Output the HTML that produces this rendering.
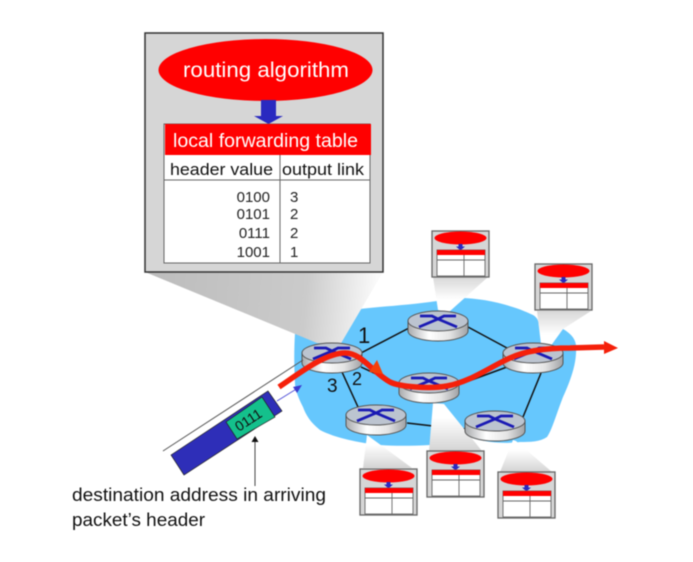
<!DOCTYPE html>
<html>
<head>
<meta charset="utf-8">
<style>
html,body{margin:0;padding:0;background:#fff;width:693px;height:562px;overflow:hidden}
svg{display:block;filter:blur(0.45px)}
text{font-family:"Liberation Sans",sans-serif}
</style>
</head>
<body>
<svg width="693" height="562" viewBox="0 0 693 562" xmlns="http://www.w3.org/2000/svg">
<defs>
<linearGradient id="cone" x1="0" y1="0" x2="0" y2="1"><stop offset="0" stop-color="#d8d8d8"/><stop offset="0.65" stop-color="#fff"/></linearGradient>
<linearGradient id="coneb" x1="0" y1="0" x2="0" y2="1"><stop offset="0.3" stop-color="#fff"/><stop offset="1" stop-color="#d4d4d4"/></linearGradient>
<linearGradient id="main" gradientUnits="userSpaceOnUse" x1="145" y1="280" x2="375" y2="300"><stop offset="0" stop-color="#bcbcbc"/><stop offset="0.7" stop-color="#cbcbcb"/><stop offset="1" stop-color="#fafafa"/></linearGradient>
<linearGradient id="side" x1="0" y1="0" x2="1" y2="0"><stop offset="0" stop-color="#a8aaad"/><stop offset="0.35" stop-color="#fff"/><stop offset="0.7" stop-color="#e4e4e4"/><stop offset="1" stop-color="#a0a2a5"/></linearGradient>
<g id="router">
<path d="M-30 0V10A30 10 0 0 0 30 10V0Z" fill="url(#side)" stroke="#555" stroke-width="1"/>
<ellipse cx="0" cy="0" rx="30" ry="10" fill="#bcc4d0" stroke="#555" stroke-width="1"/>
<path d="M-19 6L0 -2L19 6M-18 -5H-6L0 -2L6 -5H18" fill="none" stroke="#1a1ab4" stroke-width="2.8"/>
</g>
<g id="mini">
<rect x="0" y="0" width="57" height="46" fill="#d6d6d6" stroke="#666" stroke-width="1.3"/>
<ellipse cx="28.5" cy="7" rx="26" ry="6.5" fill="#f00"/>
<rect x="26.5" y="13" width="4" height="3" fill="#2a2ac0"/>
<path d="M24 15.5H33L28.5 19.500Z" fill="#2a2ac0"/>
<rect x="5" y="19" width="48" height="26" fill="#fff" stroke="#666" stroke-width="0.9"/>
<rect x="5" y="19" width="48" height="5" fill="#f00"/>
<path d="M5 29H53M32 24V45" stroke="#666" stroke-width="0.9" fill="none"/>
</g>
</defs>
<rect width="693" height="562" fill="#fff"/>

<!-- network cloud -->
<path d="M348 311C365 307 405 306 437 301C446 302 450 302 460 298C485 298 515 306 533 315C538 318 539 322 539 327C545 340 555 335 563 329C570 333 575 338 576 345C577 360 573 375 563 397C556 415 552 430 547 437C540 442 530 442 520 442C495 445 470 440 457 430L445 420L430 445C410 446 395 446 380 445C360 443 335 438 320 430C310 422 306 415 303 407C297 395 295 388 295 383C294 365 294 350 295 333Z" fill="#66c7fd"/>

<!-- links -->
<path d="M361 353L409 328M468 327L507 348M361 367L400 385M458 385L507 367M342 372L358 407M407 423L433 426M458 428L465 429M541 373L523 417" stroke="#111" stroke-width="1.5" fill="none"/>

<!-- cones -->
<polygon points="145,272 383,272 340,345 317,343" fill="url(#main)"/>
<polygon points="433,277 488,277 449,312 438,310" fill="url(#cone)"/>
<polygon points="537,311 591,311 563,329 550,347 541,344" fill="url(#cone)"/>
<polygon points="363,468 412,468 378,443 367,435" fill="url(#coneb)"/>
<polygon points="429,451 482,451 444,404 433,403" fill="url(#coneb)"/>
<polygon points="500,472 552,472 516,441 513,440" fill="url(#coneb)"/>

<!-- routers -->
<use href="#router" x="332" y="353"/>
<use href="#router" x="438" y="321"/>
<use href="#router" x="533" y="353"/>
<use href="#router" x="429" y="383"/>
<use href="#router" x="376" y="415"/>
<use href="#router" x="495" y="421"/>

<!-- main box -->
<rect x="145" y="33" width="238" height="239" fill="#d6d6d6" stroke="#333" stroke-width="1.5"/>
<ellipse cx="265.5" cy="70" rx="107" ry="31" fill="#f00"/>
<text x="266" y="77" font-size="21" fill="#fff" text-anchor="middle" textLength="166" lengthAdjust="spacingAndGlyphs">routing algorithm</text>
<path d="M261 100H276V116H283L268.500 124L254 116H261Z" fill="#2a2ac0"/>
<rect x="164" y="124" width="206" height="139" fill="#fff" stroke="#666" stroke-width="1"/>
<rect x="165" y="124" width="206" height="31" fill="#f00"/>
<text x="173" y="147" font-size="19" fill="#fff" textLength="185" lengthAdjust="spacingAndGlyphs">local forwarding table</text>
<path d="M164 180H370M280 155V263" stroke="#666" stroke-width="1" fill="none"/>
<text x="170" y="175" font-size="17" fill="#111" textLength="103" lengthAdjust="spacingAndGlyphs">header value</text>
<text x="282" y="175" font-size="17" fill="#111" textLength="82" lengthAdjust="spacingAndGlyphs">output link</text>
<g font-size="15" fill="#222">
<text x="270" y="202" text-anchor="end">0100</text>
<text x="270" y="219" text-anchor="end">0101</text>
<text x="270" y="238" text-anchor="end">0111</text>
<text x="270" y="257" text-anchor="end">1001</text>
<text x="290" y="202">3</text>
<text x="290" y="219">2</text>
<text x="290" y="238">2</text>
<text x="290" y="257">1</text>
</g>

<!-- mini tables -->
<use href="#mini" x="432" y="231"/>
<use href="#mini" x="535" y="264"/>
<use href="#mini" x="360" y="469"/>
<use href="#mini" x="427" y="451"/>
<use href="#mini" x="498" y="472"/>

<!-- port labels -->
<g fill="#111">
<text x="358" y="343" font-size="22">1</text>
<text x="352" y="385" font-size="18">2</text>
<text x="327" y="392" font-size="19">3</text>
</g>

<!-- packet -->
<path d="M163 451L303 360" stroke="#555" stroke-width="1"/>
<polygon points="171,455 268,391 282,411 184,475" fill="#2e2eb8" stroke="#222" stroke-width="0.7"/>
<polygon points="226,422 262,397 275,417 237,439" fill="#14c08c" stroke="#222" stroke-width="0.7"/>
<text x="0" y="0" font-size="14" fill="#111" text-anchor="middle" transform="translate(251,424) rotate(-33)">0111</text>
<path d="M277 401L298 388" stroke="#5050d8" stroke-width="1"/>
<path d="M302 385L293 387L297 393Z" fill="#3a3ad0"/>

<!-- red path -->
<path d="M279 387C300 373 325 353 345 353C362 353 372 372 390 382C400 387 430 389 447 386C470 382 490 367 510 358C525 351 545 348 570 348L604 347" fill="none" stroke="#f5200a" stroke-width="5.5"/>
<polygon points="604,341 618,348 604,354" fill="#f5200a"/>
<polygon points="377,360 383,374 369,372" fill="#f5400a"/>

<!-- annotation -->
<path d="M255 486V442" stroke="#444" stroke-width="1"/>
<polygon points="255,436 251.500,442 258.500,442" fill="#111"/>
<text x="72" y="501" font-size="18" fill="#111" textLength="254" lengthAdjust="spacingAndGlyphs">destination address in arriving</text>
<text x="72" y="526" font-size="18" fill="#111" textLength="133" lengthAdjust="spacingAndGlyphs">packet’s header</text>
</svg>
</body>
</html>
